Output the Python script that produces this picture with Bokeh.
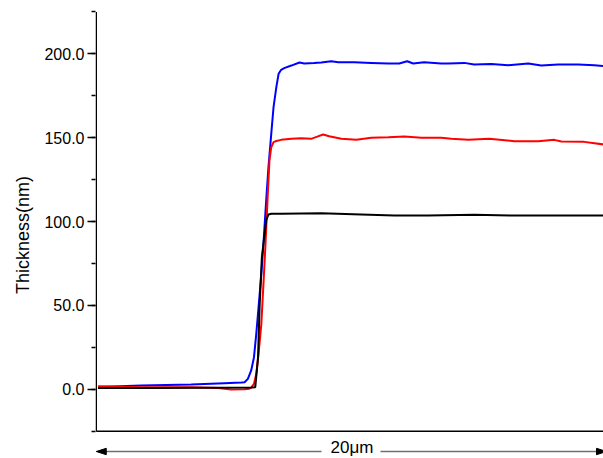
from bokeh.plotting import figure
from bokeh.models import Range1d, SingleIntervalTicker, PrintfTickFormatter
from bokeh.core.properties import value
from bokeh.embed import file_html
from bokeh.resources import INLINE

# ---- data (position in µm, thickness in nm) ----
blue_x = [0.07, 1.77, 3.74, 5.04, 5.71, 5.84, 5.97, 6.10, 6.21, 6.30, 6.39, 6.50, 6.59, 6.69,
          6.78, 6.89, 6.98, 7.09, 7.18, 7.28, 7.40, 7.68, 8.00, 8.19, 8.58, 8.86, 9.25, 9.53,
          10.16, 10.83, 11.50, 11.93, 12.24, 12.48, 12.91, 13.58, 13.86, 14.49, 14.88, 15.55,
          16.22, 17.01, 17.52, 18.19, 18.98, 19.61, 20.0]
blue_y = [1.4, 2.2, 2.8, 3.6, 4.0, 4.2, 6.2, 11.2, 19.1, 33.0, 48.9, 68.8, 88.7, 112.5,
          132.4, 152.3, 168.2, 180.1, 188.1, 190.5, 191.5, 193.0, 194.8, 194.2, 194.5, 194.8,
          195.6, 195.0, 195.0, 194.6, 194.2, 194.2, 195.6, 194.2, 195.0, 194.2, 194.2, 194.6,
          193.6, 194.0, 193.2, 194.2, 193.0, 193.6, 193.6, 193.2, 192.6]

red_x = [0.07, 1.77, 3.74, 4.80, 5.31, 5.83, 6.02, 6.10, 6.21, 6.30, 6.39, 6.50, 6.59, 6.67,
         6.76, 6.82, 6.89, 6.98, 7.09, 7.28, 7.68, 8.07, 8.46, 8.70, 8.93, 9.17, 9.65, 10.24,
         10.83, 11.50, 12.13, 12.80, 13.58, 13.98, 14.65, 15.47, 16.46, 17.40, 18.03, 18.31,
         19.21, 20.0]
red_y = [1.8, 1.2, 1.2, 0.8, -0.2, 0.0, 0.3, 1.0, 3.2, 9.2, 21.1, 39.0, 64.8, 88.7,
         118.5, 136.4, 144.3, 147.3, 148.0, 148.7, 149.3, 149.7, 149.3, 150.6, 151.9, 150.9,
         149.3, 148.7, 149.9, 150.3, 150.7, 149.9, 149.9, 149.3, 148.7, 149.3, 147.9, 147.9,
         148.7, 147.7, 147.5, 145.9]

black_x = [0.07, 2.17, 4.13, 6.10, 6.26, 6.37, 6.43, 6.52, 6.63, 6.69, 6.78, 6.89, 7.28,
           8.86, 10.43, 11.73, 13.07, 14.88, 16.46, 18.31, 20.0]
black_y = [0.8, 0.8, 0.9, 1.0, 1.2, 19.0, 48.9, 78.7, 92.7, 100.6, 104.2, 104.6, 104.6,
           104.9, 104.2, 103.6, 103.6, 104.0, 103.6, 103.6, 103.6]

y_min, y_max = -25, 225
scan_length = 20
scale_label = "20μm"
y_label = "Thickness(nm)"

# ---- figure ----
W, H = 603, 458
BL, BT = 95, 11
px_per_x = 25.4
px_per_y = 1.677
x0 = -0.75 / px_per_x
x1 = x0 + (W - BL) / px_per_x
y1 = y_max + 0.4 / px_per_y
y0 = y1 - (H - BT) / px_per_y

p = figure(width=W, height=H, output_backend="svg", toolbar_location=None,
           x_range=Range1d(x0, x1), y_range=Range1d(y0, y1),
           x_axis_location=None, min_border_left=BL, min_border_right=0,
           min_border_top=BT, min_border_bottom=0)
p.outline_line_color = None
p.grid.visible = False
p.background_fill_color = "white"
p.border_fill_color = "white"

ax = p.yaxis[0]
ax.ticker = SingleIntervalTicker(interval=50, num_minor_ticks=2)
ax.formatter = PrintfTickFormatter(format="%.1f")
ax.axis_line_color = None
ax.major_tick_out = 8
ax.major_tick_in = 0
ax.minor_tick_out = 4
ax.minor_tick_in = 0
ax.major_tick_line_width = 1.5
ax.minor_tick_line_width = 1.5
ax.major_tick_line_color = "black"
ax.minor_tick_line_color = "black"
ax.major_label_text_font = "Liberation Sans"
ax.major_label_text_font_size = "16px"
ax.major_label_text_color = "black"
ax.major_label_standoff = 3
ax.axis_label = y_label
ax.axis_label_text_font = "Liberation Sans"
ax.axis_label_text_font_size = "18px"
ax.axis_label_text_font_style = "normal"
ax.axis_label_text_color = "black"
ax.axis_label_standoff = 8

# axis frame lines (left + bottom)
p.segment(x0=[0], y0=[y_min], x1=[0], y1=[y_max], line_color="black", line_width=1.5)
p.segment(x0=[0], y0=[y_min], x1=[scan_length + 1], y1=[y_min], line_color="black", line_width=1.5)

# data
p.line(blue_x, blue_y, line_color="#0000FF", line_width=2)
p.line(red_x, red_y, line_color="#FF0000", line_width=2)
p.line(black_x, black_y, line_color="black", line_width=2)

# scale arrow below the axis
def px2x(px):
    return x0 + (px - BL) / px_per_x

def py2y(py):
    return y1 - (py - BT) / px_per_y

ya = py2y(451)
ah_len = 10 / px_per_x
ah_w = 3.2 / px_per_y
p.segment(x0=[ah_len * 0.8, px2x(380)], y0=[ya, ya], x1=[px2x(321), scan_length], y1=[ya, ya],
          line_color="#707070", line_width=1.5)
p.patch([0, ah_len, ah_len], [ya, ya + ah_w, ya - ah_w], color="black")
p.patch([px2x(606), px2x(606) - ah_len, px2x(606) - ah_len],
        [ya, ya + ah_w, ya - ah_w], color="black")
p.text(x=[px2x(351.5)], y=[py2y(447)], text=[scale_label], text_font=value("Liberation Sans"),
       text_font_size="17px", text_align="center", text_baseline="middle", text_color="black")

open("out.html", "w").write(file_html(p, INLINE))
